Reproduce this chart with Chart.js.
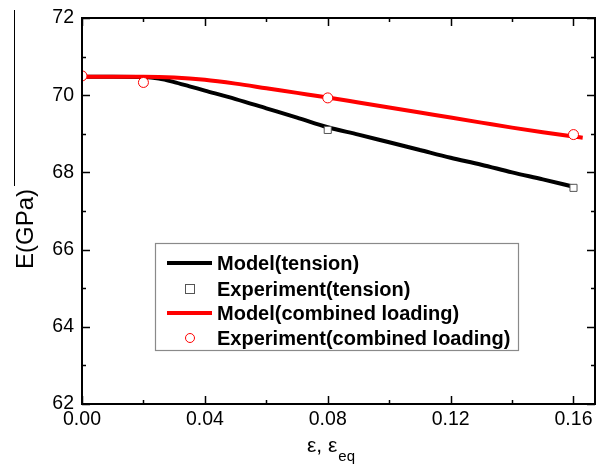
<!DOCTYPE html>
<html>
<head>
<meta charset="UTF-8">
<title>E vs strain</title>
<script src="https://cdn.jsdelivr.net/npm/chart.js@4.4.0/dist/chart.umd.min.js"></script>
<style>
  html, body { margin: 0; padding: 0; background: #fff; }
  #wrap { width: 596px; height: 465px; }
</style>
</head>
<body>
<div id="wrap"><canvas id="c" width="596" height="465"></canvas></div>
<script>
// model curves (strain, modulus in GPa)
const modelTensionX = [0, 0.01, 0.02, 0.025, 0.03, 0.035, 0.04, 0.05, 0.06, 0.07, 0.08, 0.09, 0.10, 0.11, 0.12, 0.13, 0.14, 0.15, 0.16];
const modelTensionY = [70.48, 70.48, 70.47, 70.43, 70.34, 70.23, 70.12, 69.90, 69.66, 69.42, 69.17, 68.98, 68.78, 68.58, 68.38, 68.20, 68.00, 67.82, 67.63];
const modelCombinedX = [0, 0.02, 0.03, 0.04, 0.05, 0.06, 0.07, 0.08, 0.09, 0.10, 0.11, 0.12, 0.13, 0.14, 0.15, 0.16, 0.163];
const modelCombinedY = [70.48, 70.48, 70.46, 70.40, 70.30, 70.18, 70.06, 69.94, 69.81, 69.68, 69.55, 69.42, 69.29, 69.16, 69.04, 68.93, 68.90];

// measured points
const expX = [0, 0.02, 0.08, 0.16];
const expTensionY = [70.5, 70.33, 69.1, 67.6];
const expCombinedY = [70.5, 70.33, 69.93, 68.98];

const xTicks = [0, 0.04, 0.08, 0.12, 0.16];
const yTicks = [62, 64, 66, 68, 70, 72];

const seriesLabels = ['Model(tension)', 'Experiment(tension)', 'Model(combined loading)', 'Experiment(combined loading)'];

const FONT = '"Liberation Sans", Arial, sans-serif';
const pts = (xs, ys) => xs.map((x, i) => ({ x: x, y: ys[i] }));

// frame, inward ticks, axis titles and the boxed legend
const decor = {
  id: 'decor',
  afterDraw(chart) {
    const ctx = chart.ctx;
    const a = chart.chartArea;
    const xs = chart.scales.x, ys = chart.scales.y;
    ctx.save();
    ctx.strokeStyle = '#000';
    ctx.lineWidth = 2;
    ctx.strokeRect(a.left, a.top, a.right - a.left, a.bottom - a.top);

    ctx.lineWidth = 1.5;
    ctx.beginPath();
    for (let v = 0; v <= 0.1601; v += 0.02) {
      const px = Math.round(xs.getPixelForValue(v)) + 0.5;
      const len = (Math.round(v * 100) % 4 === 0) ? 8 : 4;
      ctx.moveTo(px, a.bottom); ctx.lineTo(px, a.bottom - len);
      ctx.moveTo(px, a.top); ctx.lineTo(px, a.top + len);
    }
    for (let v = 62; v <= 72; v += 1) {
      const py = Math.round(ys.getPixelForValue(v)) + 0.5;
      const len = (v % 2 === 0) ? 8 : 4;
      ctx.moveTo(a.left, py); ctx.lineTo(a.left + len, py);
      ctx.moveTo(a.right, py); ctx.lineTo(a.right - len, py);
    }
    ctx.stroke();

    // thin rule at the far left edge
    ctx.lineWidth = 1;
    ctx.beginPath(); ctx.moveTo(14.5, 10); ctx.lineTo(14.5, 186); ctx.stroke();

    // y axis title
    ctx.fillStyle = '#000';
    ctx.save();
    ctx.translate(33, 229);
    ctx.rotate(-Math.PI / 2);
    ctx.font = '24px ' + FONT;
    ctx.textAlign = 'center';
    ctx.textBaseline = 'alphabetic';
    ctx.fillText('E(GPa)', 0, 0);
    ctx.restore();

    // x axis title: ε, ε_eq
    ctx.textBaseline = 'alphabetic';
    const main = 'ε, ε';
    ctx.font = '21px ' + FONT;
    const w1 = ctx.measureText(main).width;
    ctx.font = '15px ' + FONT;
    const w2 = ctx.measureText('eq').width;
    const cx = (a.left + a.right) / 2 - 8;
    const sx = cx - (w1 + w2) / 2;
    ctx.font = '21px ' + FONT;
    ctx.fillText(main, sx, 452);
    ctx.font = '15px ' + FONT;
    ctx.fillText('eq', sx + w1 + 1, 461);

    // legend box
    const box = { l: 155, t: 243, r: 518, b: 350 };
    ctx.strokeStyle = '#8a8a8a';
    ctx.lineWidth = 1.2;
    ctx.strokeRect(box.l + 0.5, box.t + 0.5, box.r - box.l, box.b - box.t);
    const rows = [263, 289, 313, 338];
    ctx.font = 'bold 20px ' + FONT;
    ctx.textBaseline = 'middle';
    chart.data.datasets.forEach((ds, i) => {
      const y = rows[i];
      if (ds.showLine !== false) {
        ctx.strokeStyle = ds.borderColor;
        ctx.lineWidth = 4;
        ctx.beginPath(); ctx.moveTo(167, y); ctx.lineTo(212, y); ctx.stroke();
      } else if (ds.pointStyle === 'rect') {
        ctx.strokeStyle = ds.pointBorderColor;
        ctx.lineWidth = 1;
        ctx.strokeRect(185.5, y - 4.5, 9, 9);
      } else {
        ctx.strokeStyle = ds.pointBorderColor;
        ctx.lineWidth = 1;
        ctx.beginPath(); ctx.arc(190, y, 4.5, 0, Math.PI * 2); ctx.stroke();
      }
      ctx.fillStyle = '#000';
      ctx.fillText(ds.label, 217, y + 1);
    });
    ctx.restore();
  }
};

new Chart(document.getElementById('c'), {
  type: 'scatter',
  data: {
    datasets: [
      { label: seriesLabels[0], data: pts(modelTensionX, modelTensionY), showLine: true,
        borderColor: '#000', borderWidth: 4, pointRadius: 0, cubicInterpolationMode: 'monotone', order: 4 },
      { label: seriesLabels[1], data: pts(expX, expTensionY), showLine: false, pointStyle: 'rect',
        pointRadius: 5, pointBackgroundColor: '#fff', pointBorderColor: '#555', pointBorderWidth: 1, order: 2 },
      { label: seriesLabels[2], data: pts(modelCombinedX, modelCombinedY), showLine: true,
        borderColor: '#ff0000', borderWidth: 4, pointRadius: 0, cubicInterpolationMode: 'monotone', order: 3 },
      { label: seriesLabels[3], data: pts(expX, expCombinedY), showLine: false, pointStyle: 'circle',
        pointRadius: 5, pointBackgroundColor: '#fff', pointBorderColor: '#ff0000', pointBorderWidth: 1, order: 1 }
    ]
  },
  options: {
    responsive: false,
    animation: false,
    layout: { autoPadding: false, padding: { top: 18, right: 1, left: 0, bottom: 0 } },
    plugins: { legend: { display: false }, tooltip: { enabled: false } },
    scales: {
      x: {
        type: 'linear', min: 0, max: 0.167,
        grid: { display: false, drawTicks: false },
        border: { display: false },
        afterBuildTicks(s) { s.ticks = xTicks.map(v => ({ value: v })); },
        afterFit(s) { s.height = 61; s.paddingLeft = 0; s.paddingRight = 0; },
        ticks: { color: '#000', padding: 4, maxRotation: 0, font: { family: FONT, size: 19.5 },
          callback: v => Number(v).toFixed(2) }
      },
      y: {
        min: 62, max: 72,
        grid: { display: false, drawTicks: false },
        border: { display: false },
        afterBuildTicks(s) { s.ticks = yTicks.map(v => ({ value: v })); },
        afterFit(s) { s.width = 82; s.paddingTop = 0; s.paddingBottom = 0; },
        ticks: { color: '#000', padding: 8, font: { family: FONT, size: 19.5 } }
      }
    }
  },
  plugins: [decor]
});
</script>
</body>
</html>
